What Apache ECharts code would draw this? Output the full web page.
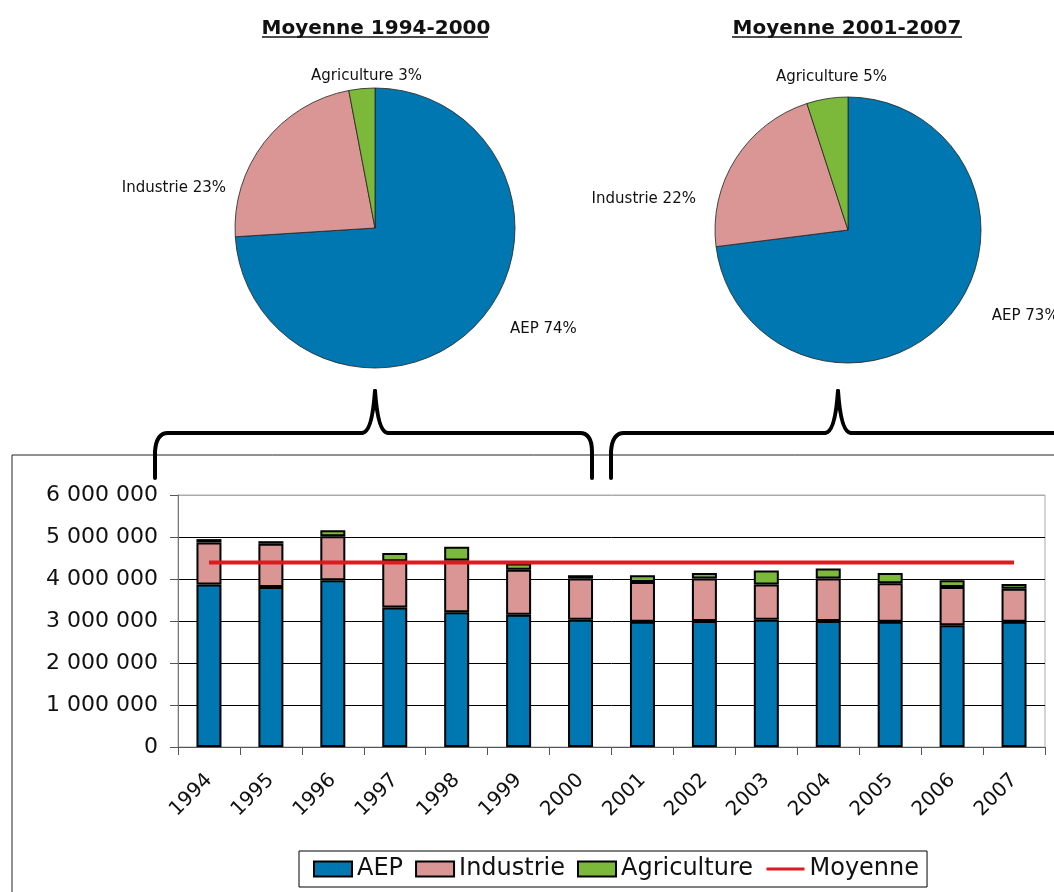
<!DOCTYPE html>
<html>
<head>
<meta charset="utf-8">
<script src="https://cdn.jsdelivr.net/npm/echarts@6/dist/echarts.min.js"></script>
<style>
    html, body { margin: 0; padding: 0; background: #fff; }
    #main { width: 1054px; height: 892px; }
</style>
</head>
<body>
<div id="main"></div>
<script>
// donnees
var years = ['1994', '1995', '1996', '1997', '1998', '1999', '2000',
             '2001', '2002', '2003', '2004', '2005', '2006', '2007'];
var aep = [3870000, 3810000, 3970000, 3320000, 3210000, 3150000, 3030000,
           2980000, 3000000, 3030000, 3000000, 2980000, 2900000, 2980000];
var industrie = [1000000, 1030000, 1050000, 1100000, 1230000, 1070000, 980000,
                 950000, 1010000, 840000, 1010000, 920000, 910000, 790000];
var agriculture = [80000, 60000, 140000, 200000, 330000, 150000, 80000,
                   160000, 130000, 330000, 240000, 240000, 160000, 110000];
var moyenne = [4390000, 4390000, 4390000, 4390000, 4390000, 4390000, 4390000,
               4390000, 4390000, 4390000, 4390000, 4390000, 4390000, 4390000];

var pieNames = ['AEP', 'Industrie', 'Agriculture'];
var pie1994 = [74, 23, 3];
var pie2001 = [73, 22, 5];
var yTicks = [0, 1000000, 2000000, 3000000, 4000000, 5000000, 6000000];

var colors = ['#0077b0', '#d99694', '#7cb83a'];
var red = '#dc1a1f';
var font = 'DejaVu Sans';

function pieData(values) {
    return pieNames.map(function (n, i) {
        return { name: n, value: values[i], itemStyle: { color: colors[i] } };
    });
}

// decalages des etiquettes des camemberts (placement facon Excel)
var pieLabelShift = [
    [[22, 0], [-27, 51], [66, -5]],
    [[33, -7], [-28, 45], [66, -14]]
];

function pieSeries(values, center, radius, k) {
    return {
        type: 'pie',
        center: center,
        radius: radius,
        startAngle: 90,
        clockwise: true,
        silent: true,
        data: pieData(values),
        itemStyle: { borderColor: '#222', borderWidth: 0.8 },
        label: {
            show: true,
            position: 'outside',
            formatter: '{b} {c}%',
            fontFamily: font,
            fontSize: 15,
            color: '#111'
        },
        labelLine: { show: false, length: 8, length2: 0 },
        labelLayout: function (p) {
            var s = pieLabelShift[k][p.dataIndex];
            return { dx: s[0], dy: s[1] };
        }
    };
}

function fmt(v) {
    return String(v).replace(/\B(?=(\d{3})+(?!\d))/g, ' ');
}

/**
 * accolade : suite de segments droits et de courbes quadratiques
 */
function brace(pts) {
    var els = [];
    var st = { fill: 'none', stroke: '#000', lineWidth: 4, lineCap: 'round' };
    for (var i = 0; i < pts.length - 1; i++) {
        var a = pts[i], b = pts[i + 1];
        if (b.length === 4) {
            els.push({ type: 'bezierCurve', z: 100, style: st,
                shape: { x1: a[a.length - 2], y1: a[a.length - 1], cpx1: b[0], cpy1: b[1], x2: b[2], y2: b[3] } });
        } else {
            els.push({ type: 'line', z: 100, style: st,
                shape: { x1: a[a.length - 2], y1: a[a.length - 1], x2: b[0], y2: b[1] } });
        }
    }
    return els;
}

var braceLeft = brace([[155, 478], [155, 452], [156, 433, 168, 433], [362, 433],
    [372, 433, 375, 391], [378, 433, 388, 433], [580, 433], [592, 433, 592, 452], [592, 478]]);
var braceRight = brace([[611, 478], [611, 452], [612, 433, 624, 433], [825, 433],
    [835, 433, 838, 391], [841, 433, 851, 433], [1060, 433]]);

var chart = echarts.init(document.getElementById('main'));

var option = {
    backgroundColor: '#fff',
    animation: false,
    textStyle: { fontFamily: font },
    title: [
        { text: 'Moyenne 1994-2000', left: 371, top: 14, textAlign: 'center',
          textStyle: { fontFamily: font, fontSize: 20, fontWeight: 'bold', color: '#111' } },
        { text: 'Moyenne 2001-2007', left: 842, top: 14, textAlign: 'center',
          textStyle: { fontFamily: font, fontSize: 20, fontWeight: 'bold', color: '#111' } }
    ],
    grid: {
        left: 178, right: 9, top: 495, bottom: 145,
        show: true, borderColor: '#aaa', borderWidth: 1,
        containLabel: false
    },
    legend: {
        data: [
            { name: 'AEP', icon: 'rect' },
            { name: 'Industrie', icon: 'rect' },
            { name: 'Agriculture', icon: 'rect' },
            { name: 'Moyenne', itemStyle: { opacity: 0 }, lineStyle: { width: 3 } }
        ],
        left: 299, top: 851,
        itemWidth: 38, itemHeight: 15, itemGap: 12,
        padding: [6, 8, 6, 14],
        borderColor: '#000', borderWidth: 1,
        textStyle: { fontFamily: font, fontSize: 24, color: '#111' }
    },
    xAxis: {
        type: 'category',
        data: years,
        axisLine: { lineStyle: { color: '#555' } },
        axisTick: { show: true, length: 8, lineStyle: { color: '#555' } },
        axisLabel: { rotate: 45, margin: 30, fontSize: 20, color: '#111', fontFamily: font }
    },
    yAxis: {
        type: 'value',
        min: yTicks[0], max: yTicks[yTicks.length - 1], interval: 1000000,
        axisLine: { show: true, lineStyle: { color: '#777' } },
        axisTick: { show: true, length: 8, lineStyle: { color: '#555' } },
        axisLabel: { margin: 20, fontSize: 22, color: '#111', fontFamily: font, formatter: fmt },
        splitLine: { lineStyle: { color: ['#000', '#000', '#000', '#000', '#000', '#000', '#aaa'], width: 1 } }
    },
    series: [
        { name: 'AEP', type: 'bar', stack: 'total', barWidth: 25, data: aep,
          itemStyle: { color: colors[0], borderColor: '#000', borderWidth: 2 } },
        { name: 'Industrie', type: 'bar', stack: 'total', barWidth: 25, data: industrie,
          itemStyle: { color: colors[1], borderColor: '#000', borderWidth: 2 } },
        { name: 'Agriculture', type: 'bar', stack: 'total', barWidth: 25, data: agriculture,
          itemStyle: { color: colors[2], borderColor: '#000', borderWidth: 2 } },
        { name: 'Moyenne', type: 'line', data: moyenne, symbol: 'none',
          itemStyle: { color: red },
          lineStyle: { color: red, width: 4 }, z: 5 },
        pieSeries(pie1994, [375, 228], 140, 0),
        pieSeries(pie2001, [848, 230], 133, 1)
    ],
    graphic: [
        // cadre du graphique
        { type: 'rect', shape: { x: 12, y: 455, width: 1060, height: 460 },
          style: { fill: 'none', stroke: '#222', lineWidth: 1 }, z: -10 },
        // soulignement des titres
        { type: 'line', shape: { x1: 262, y1: 37, x2: 488, y2: 37 },
          style: { stroke: '#111', lineWidth: 1.5 } },
        { type: 'line', shape: { x1: 732, y1: 37, x2: 962, y2: 37 },
          style: { stroke: '#111', lineWidth: 1.5 } }
    ].concat(braceLeft, braceRight)
};

chart.setOption(option);
</script>
</body>
</html>
